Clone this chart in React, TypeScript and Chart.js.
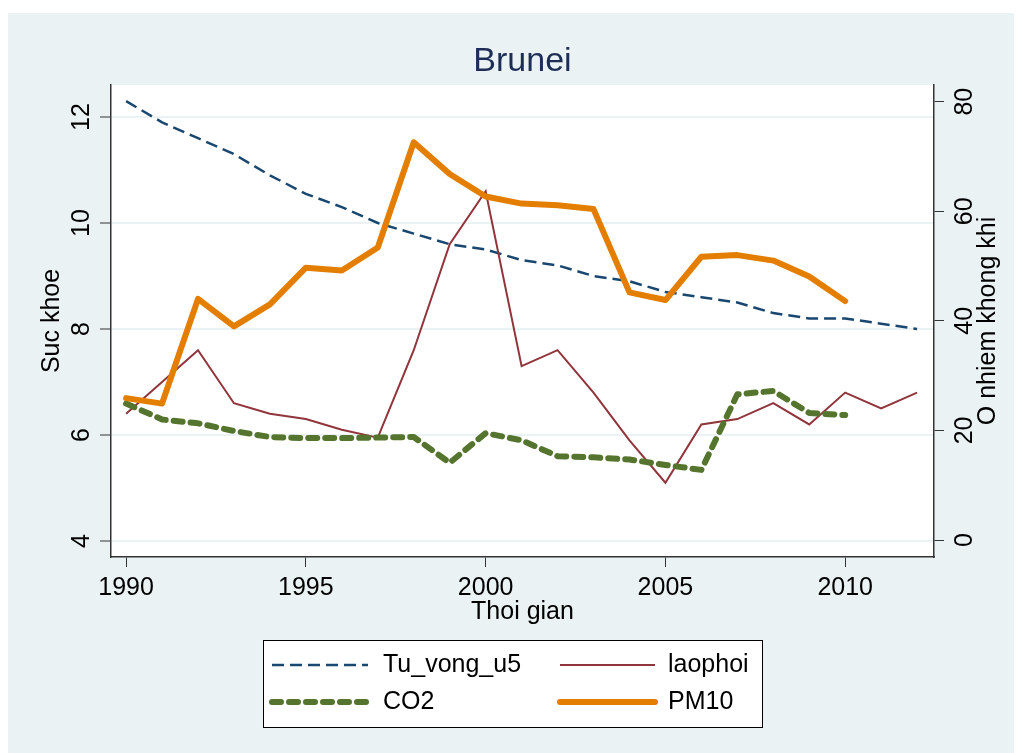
import React, { useEffect, useRef } from 'react';
import { Chart, registerables } from 'chart.js';

Chart.register(...registerables);

const years = [1990, 1991, 1992, 1993, 1994, 1995, 1996, 1997, 1998, 1999, 2000, 2001, 2002, 2003, 2004, 2005, 2006, 2007, 2008, 2009, 2010, 2011, 2012];
const tuVongU5 = [12.3, 11.9, 11.6, 11.3, 10.9, 10.55, 10.3, 10.0, 9.8, 9.6, 9.5, 9.3, 9.2, 9.0, 8.9, 8.7, 8.6, 8.5, 8.3, 8.2, 8.2, 8.1, 8.0];
const laophoi = [6.4, 7.0, 7.6, 6.6, 6.4, 6.3, 6.1, 5.95, 7.6, 9.6, 10.6, 7.3, 7.6, 6.8, 5.9, 5.1, 6.2, 6.3, 6.6, 6.2, 6.8, 6.5, 6.8];
const co2 = [24.9, 22.0, 21.3, 19.9, 18.8, 18.6, 18.6, 18.7, 18.8, 14.1, 19.5, 18.2, 15.3, 15.1, 14.7, 13.7, 12.8, 26.6, 27.2, 23.2, 22.8, null, null];
const pm10 = [25.9, 24.9, 44.0, 39.0, 43.0, 49.7, 49.2, 53.4, 72.6, 66.8, 62.7, 61.4, 61.1, 60.4, 45.2, 43.8, 51.7, 52.0, 51.0, 48.1, 43.6, null, null];

const xTicks = [1990, 1995, 2000, 2005, 2010];
const leftTicks = [4, 6, 8, 10, 12];
const rightTicks = [0, 20, 40, 60, 80];
const seriesNames = ['Tu_vong_u5', 'laophoi', 'CO2', 'PM10'];

const chartTitle = 'Brunei';
const xTitle = 'Thoi gian';
const leftTitle = 'Suc khoe';
const rightTitle = 'O nhiem khong khi';

const FONT = 'Arial, "Liberation Sans", Helvetica, sans-serif';
const BG = '#eaf2f3';
const AXIS = '#333333';

function rotText(ctx: CanvasRenderingContext2D, text: string, x: number, y: number) {
  ctx.save();
  ctx.translate(x, y);
  ctx.rotate(-Math.PI / 2);
  ctx.textAlign = 'center';
  ctx.textBaseline = 'middle';
  ctx.fillText(text, 0, 0);
  ctx.restore();
}

const decor = {
  id: 'stataDecor',
  beforeDraw(chart: any) {
    const { ctx, chartArea: a, width, height } = chart;
    ctx.save();
    ctx.fillStyle = BG;
    ctx.fillRect(0, 0, width, height);
    ctx.fillStyle = '#ffffff';
    ctx.fillRect(a.left, a.top, a.right - a.left, a.bottom - a.top);
    ctx.restore();
  },
  afterDraw(chart: any) {
    const { ctx, chartArea: a } = chart;
    ctx.save();
    ctx.fillStyle = '#1e2d55';
    ctx.font = `34px ${FONT}`;
    ctx.textAlign = 'center';
    ctx.textBaseline = 'middle';
    ctx.fillText(chartTitle, (a.left + a.right) / 2, 49);

    ctx.fillStyle = '#000';
    ctx.font = `25px ${FONT}`;
    const ys = chart.scales.y;
    ys.ticks.forEach((t: any) => rotText(ctx, String(t.value), 74, ys.getPixelForValue(t.value)));
    const y2 = chart.scales.y2;
    y2.ticks.forEach((t: any) => rotText(ctx, String(t.value), 957, y2.getPixelForValue(t.value)));
    const mid = (a.top + a.bottom) / 2;
    rotText(ctx, leftTitle, 44, mid);
    rotText(ctx, rightTitle, 980, mid);

    const bx = 255, by = 627, bw = 499, bh = 87;
    ctx.fillStyle = '#fff';
    ctx.fillRect(bx, by, bw, bh);
    ctx.strokeStyle = '#000';
    ctx.lineWidth = 1;
    ctx.setLineDash([]);
    ctx.strokeRect(bx + 0.5, by + 0.5, bw, bh);
    const cols = [{ l0: 264, l1: 360, tx: 375 }, { l0: 552, l1: 647, tx: 660 }];
    const rows = [652, 689];
    chart.data.datasets.forEach((ds: any, i: number) => {
      const c = cols[i % 2];
      const r = rows[Math.floor(i / 2)];
      ctx.save();
      ctx.strokeStyle = ds.borderColor;
      ctx.lineWidth = ds.borderWidth;
      ctx.lineCap = ds.borderCapStyle || 'butt';
      ctx.setLineDash(ds.borderDash || []);
      ctx.beginPath();
      ctx.moveTo(c.l0, r);
      ctx.lineTo(c.l1, r);
      ctx.stroke();
      ctx.restore();
      ctx.fillStyle = '#000';
      ctx.font = `25px ${FONT}`;
      ctx.textAlign = 'left';
      ctx.textBaseline = 'middle';
      ctx.fillText(ds.label, c.tx, r);
    });
    ctx.restore();
  },
};

export default function App() {
  const ref = useRef<HTMLCanvasElement | null>(null);
  useEffect(() => {
    if (!ref.current) return;
    const chart = new Chart(ref.current, {
      type: 'line',
      data: {
        labels: years,
        datasets: [
          {
            label: seriesNames[0],
            data: years.map((x, i) => ({ x, y: tuVongU5[i] })),
            yAxisID: 'y',
            borderColor: '#1a476f',
            borderWidth: 2.5,
            borderDash: [12, 6],
            pointRadius: 0,
            order: 3,
          },
          {
            label: seriesNames[1],
            data: years.map((x, i) => ({ x, y: laophoi[i] })),
            yAxisID: 'y',
            borderColor: '#90353b',
            borderWidth: 2,
            pointRadius: 0,
            order: 2,
          },
          {
            label: seriesNames[2],
            data: years.map((x, i) => ({ x, y: co2[i] })),
            yAxisID: 'y2',
            borderColor: '#55752f',
            borderWidth: 6,
            borderDash: [9, 8],
            borderCapStyle: 'round',
            borderJoinStyle: 'round',
            pointRadius: 0,
            order: 1,
          },
          {
            label: seriesNames[3],
            data: years.map((x, i) => ({ x, y: pm10[i] })),
            yAxisID: 'y2',
            borderColor: '#e37e00',
            borderWidth: 6,
            borderCapStyle: 'round',
            borderJoinStyle: 'round',
            pointRadius: 0,
            order: 0,
          },
        ] as any,
      },
      options: {
        animation: false,
        responsive: false,
        devicePixelRatio: 1,
        layout: { padding: { top: 72, left: 0, right: 0, bottom: 0 } },
        plugins: { legend: { display: false }, tooltip: { enabled: false }, title: { display: false } },
        scales: {
          x: {
            type: 'linear',
            min: 1989.58,
            max: 2012.47,
            afterBuildTicks: (s: any) => { s.ticks = xTicks.map((v) => ({ value: v })); },
            afterFit: (s: any) => { s.height = 196; },
            grid: { drawOnChartArea: false, drawTicks: true, tickLength: 10, tickColor: AXIS, tickWidth: 1 },
            border: { display: true, color: AXIS, width: 1.5 },
            ticks: { color: '#000', font: { family: FONT, size: 25 }, padding: 6, maxRotation: 0, callback: (v: any) => String(v) },
            title: { display: true, text: xTitle, color: '#000', font: { family: FONT, size: 25 }, padding: { top: 0, bottom: 126 } },
          },
          y: {
            type: 'linear',
            position: 'left',
            min: 3.698,
            max: 12.604,
            afterBuildTicks: (s: any) => { s.ticks = leftTicks.map((v) => ({ value: v })); },
            afterFit: (s: any) => { s.width = 103; },
            grid: { color: BG, lineWidth: 2, drawTicks: true, tickLength: 11, tickColor: AXIS, tickWidth: 1 },
            border: { display: true, color: AXIS, width: 1.5 },
            ticks: { display: false },
          },
          y2: {
            type: 'linear',
            position: 'right',
            min: -3.10,
            max: 83.05,
            afterBuildTicks: (s: any) => { s.ticks = rightTicks.map((v) => ({ value: v })); },
            afterFit: (s: any) => { s.width = 88; },
            grid: { drawOnChartArea: false, drawTicks: true, tickLength: 10, tickColor: AXIS, tickWidth: 1 },
            border: { display: true, color: AXIS, width: 1.5 },
            ticks: { display: false },
          },
        },
      } as any,
      plugins: [decor],
    });
    return () => chart.destroy();
  }, []);
  return (
    <div style={{ width: 1014, height: 740, marginTop: 5, background: BG }}>
      <canvas ref={ref} width={1014} height={740} style={{ width: 1014, height: 740, display: 'block' }} />
    </div>
  );
}
